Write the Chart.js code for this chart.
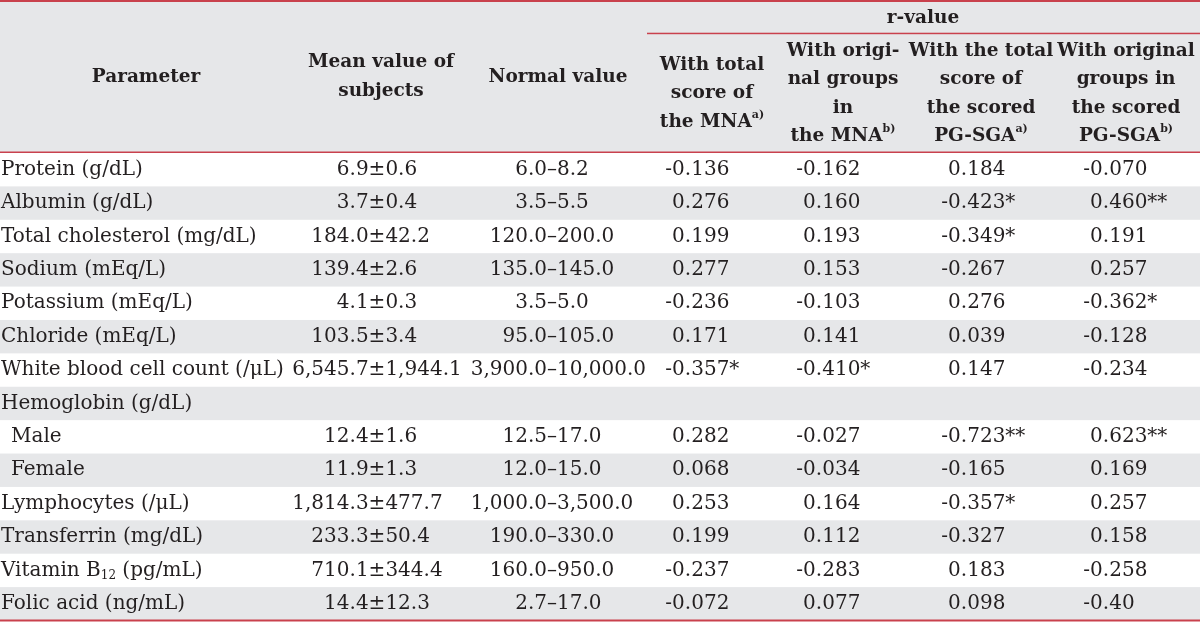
<!DOCTYPE html>
<html>
<head>
<meta charset="utf-8">
<script src="https://cdn.jsdelivr.net/npm/chart.js@4.4.0/dist/chart.umd.min.js"></script>
<style>
  html, body { margin: 0; padding: 0; background: #fff; }
  #wrap { width: 1200px; height: 622px; }
</style>
</head>
<body>
<div id="wrap"><canvas id="myChart"></canvas></div>
<script>
// table content
const parameters = ["Protein (g/dL)", "Albumin (g/dL)", "Total cholesterol (mg/dL)", "Sodium (mEq/L)",
  "Potassium (mEq/L)", "Chloride (mEq/L)", "White blood cell count (/μL)", "Hemoglobin (g/dL)",
  "Male", "Female", "Lymphocytes (/μL)", "Transferrin (mg/dL)", "Vitamin B_{12} (pg/mL)", "Folic acid (ng/mL)"];
const indentedRows = [8, 9]; // Male / Female under Hemoglobin
const meanValues = ["6.9±0.6", "3.7±0.4", "184.0±42.2", "139.4±2.6", "4.1±0.3", "103.5±3.4", "6,545.7±1,944.1",
  "", "12.4±1.6", "11.9±1.3", "1,814.3±477.7", "233.3±50.4", "710.1±344.4", "14.4±12.3"];
const normalValues = ["6.0–8.2", "3.5–5.5", "120.0–200.0", "135.0–145.0", "3.5–5.0", "95.0–105.0", "3,900.0–10,000.0",
  "", "12.5–17.0", "12.0–15.0", "1,000.0–3,500.0", "190.0–330.0", "160.0–950.0", "2.7–17.0"];
const rMnaTotal = ["-0.136", "0.276", "0.199", "0.277", "-0.236", "0.171", "-0.357*",
  "", "0.282", "0.068", "0.253", "0.199", "-0.237", "-0.072"];
const rMnaGroups = ["-0.162", "0.160", "0.193", "0.153", "-0.103", "0.141", "-0.410*",
  "", "-0.027", "-0.034", "0.164", "0.112", "-0.283", "0.077"];
const rSgaTotal = ["0.184", "-0.423*", "-0.349*", "-0.267", "0.276", "0.039", "0.147",
  "", "-0.723**", "-0.165", "-0.357*", "-0.327", "0.183", "0.098"];
const rSgaGroups = ["-0.070", "0.460**", "0.191", "0.257", "-0.362*", "-0.128", "-0.234",
  "", "0.623**", "0.169", "0.257", "0.158", "-0.258", "-0.40"];

const columnHeaders = [
  ["Parameter"],
  ["Mean value of", "subjects"],
  ["Normal value"],
  ["With total", "score of", "the MNA^{a)}"],
  ["With origi-", "nal groups", "in", "the MNA^{b)}"],
  ["With the total", "score of", "the scored", "PG-SGA^{a)}"],
  ["With original", "groups in", "the scored", "PG-SGA^{b)}"]
];
const groupHeader = "r-value";

// layout (x in px, y in row units)
const colAnchor = [1, 377, 552, 688, 819, 964, 1106];   // where each column is aligned
const colAlignOn = ["left", "±", "–", ".", ".", ".", "."];
const headerCenter = [146, 381, 558, 712, 843, 981, 1126];
const headerMid = [-2.28, -2.28, -2.28, -1.78, -1.78, -1.78, -1.78];
const headerLineH = 0.853;
const groupLeft = 647, groupMid = -4.04, groupLineY = -3.58, groupCenter = 923;

const RED = "#c9414d";
const GRAY = "#e6e7e9";
const INK = "#231f20";
const FONT = "'DejaVu Serif', serif";
const BODY = 20, HEAD = 18.5;

function segs(str) {
  return str.split(/(\^\{[^}]*\}|_\{[^}]*\})/).filter(s => s.length).map(s => {
    if (s.startsWith("^{")) return { t: s.slice(2, -1), mode: "sup" };
    if (s.startsWith("_{")) return { t: s.slice(2, -1), mode: "sub" };
    return { t: s, mode: "" };
  });
}
function fontFor(mode, bold) {
  const base = bold ? HEAD : BODY;
  const sz = mode ? Math.round(base * 0.62) : base;
  return (bold ? "bold " : "") + sz + "px " + FONT;
}
function richWidth(ctx, str, bold) {
  let w = 0;
  segs(str).forEach(s => { ctx.font = fontFor(s.mode, bold); w += ctx.measureText(s.t).width; });
  return w;
}
function drawRich(ctx, str, x, y, bold) {
  const base = bold ? HEAD : BODY;
  segs(str).forEach(s => {
    ctx.font = fontFor(s.mode, bold);
    const dy = s.mode === "sup" ? -base * 0.36 : s.mode === "sub" ? base * 0.28 : 0;
    ctx.fillText(s.t, x, y + dy);
    x += ctx.measureText(s.t).width;
  });
}

const columns = [parameters, meanValues, normalValues, rMnaTotal, rMnaGroups, rSgaTotal, rSgaGroups];

const tablePlugin = {
  id: "tablePlugin",
  beforeDatasetsDraw(chart) {
    const { ctx, scales: { x, y } } = chart;
    const left = x.getPixelForValue(x.min), right = x.getPixelForValue(x.max);
    const top0 = y.getPixelForValue(0);
    ctx.save();
    // header band
    ctx.fillStyle = GRAY;
    ctx.fillRect(left, 0, right - left, top0);
    // zebra rows
    parameters.forEach((p, i) => {
      if (i % 2 === 1) {
        const a = y.getPixelForValue(i), b = y.getPixelForValue(i + 1);
        ctx.fillRect(left, a, right - left, b - a);
      }
    });
    // rules
    ctx.fillStyle = RED;
    ctx.fillRect(left, 0, right - left, 2);
    ctx.fillRect(left, top0 - 1.5, right - left, 1.5);
    const gy = y.getPixelForValue(groupLineY);
    ctx.fillRect(x.getPixelForValue(groupLeft), gy - 0.75, right - x.getPixelForValue(groupLeft), 1.5);
    const bottom = y.getPixelForValue(parameters.length);
    ctx.fillRect(left, bottom - 1, right - left, 2);

    // header text
    ctx.fillStyle = INK;
    ctx.textBaseline = "middle";
    ctx.textAlign = "left";
    columnHeaders.forEach((lines, c) => {
      const cx = x.getPixelForValue(headerCenter[c]);
      lines.forEach((ln, k) => {
        const v = headerMid[c] + (k - (lines.length - 1) / 2) * headerLineH;
        const w = richWidth(ctx, ln, true);
        drawRich(ctx, ln, cx - w / 2, y.getPixelForValue(v), true);
      });
    });
    const gw = richWidth(ctx, groupHeader, true);
    drawRich(ctx, groupHeader, x.getPixelForValue(groupCenter) - gw / 2, y.getPixelForValue(groupMid), true);
    ctx.restore();
  },
  afterDatasetsDraw(chart) {
    const { ctx } = chart;
    ctx.save();
    ctx.fillStyle = INK;
    ctx.textBaseline = "middle";
    ctx.textAlign = "left";
    chart.data.datasets.forEach((ds, c) => {
      const meta = chart.getDatasetMeta(c);
      meta.data.forEach((el, i) => {
        const txt = columns[c][i];
        if (!txt) return;
        let sx = el.x;
        const mark = colAlignOn[c];
        if (mark === "left") {
          if (indentedRows.includes(i)) sx += 10;
        } else {
          const k = txt.indexOf(mark);
          ctx.font = fontFor("", false);
          sx = el.x - ctx.measureText(txt.slice(0, k)).width - ctx.measureText(mark).width / 2;
        }
        drawRich(ctx, txt, sx, el.y, false);
      });
    });
    ctx.restore();
  }
};

new Chart(document.querySelector("#myChart"), {
  type: "scatter",
  data: {
    datasets: columns.map((col, c) => ({
      label: c === 0 ? "Parameter" : columnHeaders[c].join(" "),
      data: col.map((v, i) => ({ x: colAnchor[c], y: i + 0.5 })),
      pointRadius: 0,
      pointHoverRadius: 0
    }))
  },
  options: {
    responsive: true,
    maintainAspectRatio: false,
    animation: false,
    events: [],
    layout: { padding: 0 },
    plugins: { legend: { display: false }, tooltip: { enabled: false } },
    scales: {
      x: { type: "linear", min: 0, max: 1200, display: false },
      y: { type: "linear", min: -4.582, max: 14.045, reverse: true, display: false }
    }
  },
  plugins: [tablePlugin]
});
</script>
</body>
</html>
